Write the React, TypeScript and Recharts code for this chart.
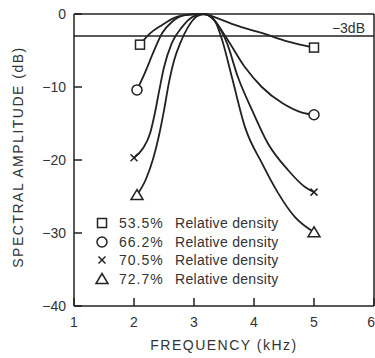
import { LineChart, Line, XAxis, YAxis, ReferenceLine, Legend } from 'recharts';

// axis ticks
const freqTicks = [1, 2, 3, 4, 5, 6];
const dbTicks = [0, -10, -20, -30, -40];
const topTicks = [2, 3, 4, 5];
const rightTicks = [-10, -20, -30];

// legend
const densities = ['53.5%', '66.2%', '70.5%', '72.7%'];
const markerKinds = ['square', 'circle', 'cross', 'triangle'];

// 53.5% relative density
const squareFreq = [2.1, 2.25, 2.47, 2.68, 2.95, 3.15, 3.43, 3.68, 4.13, 4.57, 5.0];
const squareDb = [-4.2, -2.8, -1.5, -0.5, -0.05, 0, -0.7, -1.5, -2.6, -3.8, -4.6];

// 66.2% relative density
const circleFreq = [2.05, 2.18, 2.32, 2.47, 2.63, 2.85, 3.15, 3.3, 3.52, 3.85, 4.13, 4.47, 4.8, 5.0];
const circleDb = [-10.4, -8.1, -5.3, -2.6, -1.1, -0.15, 0, -0.5, -3.0, -7.3, -10.0, -12.2, -13.5, -13.8];

// 70.5% relative density
const crossFreq = [2.0, 2.15, 2.27, 2.35, 2.42, 2.5, 2.63, 2.8, 3.0, 3.18, 3.35, 3.55, 3.73, 3.97, 4.23, 4.57, 4.85, 5.0];
const crossDb = [-19.7, -18.4, -16.3, -13.5, -10.5, -7.3, -4.0, -1.8, -0.3, 0, -1.0, -4.0, -8.6, -13.2, -17.7, -21.4, -23.7, -24.4];

// 72.7% relative density
const triangleFreq = [2.05, 2.2, 2.32, 2.42, 2.5, 2.58, 2.67, 2.77, 2.9, 3.05, 3.18, 3.35, 3.47, 3.63, 3.85, 4.13, 4.4, 4.68, 5.0];
const triangleDb = [-24.8, -22.6, -19.8, -16.5, -13.2, -9.5, -6.3, -4.0, -1.8, -0.3, 0, -1.0, -3.6, -8.6, -15.5, -20.4, -24.5, -27.8, -29.9];

const toRows = (f: number[], d: number[]) => f.map((freq, i) => ({ freq, db: d[i] }));

const series = [
  { kind: 'square', data: toRows(squareFreq, squareDb) },
  { kind: 'circle', data: toRows(circleFreq, circleDb) },
  { kind: 'cross', data: toRows(crossFreq, crossDb) },
  { kind: 'triangle', data: toRows(triangleFreq, triangleDb) },
];

const INK = '#222';
const TEXT = '#333';
const FONT = '"Liberation Sans", Arial, sans-serif';

const fmt = (v: number) => (v < 0 ? `\u2212${Math.abs(v)}` : `${v}`);

function Marker({ kind, cx, cy }: { kind: string; cx: number; cy: number }) {
  const common = { fill: '#fff', stroke: INK, strokeWidth: 1.5 };
  if (kind === 'square') return <rect x={cx - 4.5} y={cy - 4.5} width={9} height={9} {...common} />;
  if (kind === 'circle') return <circle cx={cx} cy={cy} r={5} {...common} />;
  if (kind === 'triangle')
    return <polygon points={`${cx},${cy - 5.5} ${cx - 6},${cy + 4.5} ${cx + 6},${cy + 4.5}`} {...common} />;
  return (
    <g stroke={INK} strokeWidth={1.5}>
      <line x1={cx - 3.5} y1={cy - 3.5} x2={cx + 3.5} y2={cy + 3.5} />
      <line x1={cx - 3.5} y1={cy + 3.5} x2={cx + 3.5} y2={cy - 3.5} />
    </g>
  );
}

const LeftTick = ({ x, y, payload }: any) => (
  <g>
    <line x1={x + 8} x2={x + 16} y1={y} y2={y} stroke={INK} strokeWidth={1.5} />
    <text x={x} y={y} dy={5} textAnchor="end" fontSize={14} fill={TEXT} fontFamily={FONT}>
      {fmt(payload.value)}
    </text>
  </g>
);

const BottomTick = ({ x, y, payload, index }: any) => {
  const last = index === freqTicks.length - 1;
  return (
    <g>
      <line x1={x} x2={x} y1={y} y2={y - 8} stroke={INK} strokeWidth={1.5} />
      <text
        x={last ? x + 1 : x}
        y={y + 21}
        textAnchor={last ? 'end' : 'middle'}
        fontSize={14}
        fill={TEXT}
        fontFamily={FONT}
      >
        {payload.value}
      </text>
    </g>
  );
};

const NoLabel = () => <g />;

const YTitle = ({ viewBox }: any) => {
  const cy = viewBox.y + viewBox.height / 2 - 3;
  return (
    <text
      x={18}
      y={cy}
      transform={`rotate(-90, 18, ${cy})`}
      textAnchor="middle"
      dominantBaseline="central"
      fontSize={14}
      letterSpacing={1.5}
      fill={TEXT}
      fontFamily={FONT}
    >
      SPECTRAL AMPLITUDE (dB)
    </text>
  );
};

const XTitle = ({ viewBox }: any) => (
  <text
    x={viewBox.x + viewBox.width / 2}
    y={viewBox.y + 44}
    textAnchor="middle"
    fontSize={14}
    letterSpacing={1.5}
    fill={TEXT}
    fontFamily={FONT}
  >
    FREQUENCY (kHz)
  </text>
);

const MinusThreeLabel = ({ viewBox }: any) => (
  <text
    x={viewBox.x + viewBox.width - 9}
    y={viewBox.y - 3}
    textAnchor="end"
    fontSize={14}
    fill={TEXT}
    fontFamily={FONT}
  >
    {'\u22123dB'}
  </text>
);

const DensityLegend = () => (
  <div style={{ fontFamily: FONT, fontSize: 14, color: TEXT }}>
    {densities.map((d, i) => (
      <div key={d} style={{ display: 'flex', alignItems: 'center', height: 18.5, whiteSpace: 'nowrap' }}>
        <svg width={16} height={16} style={{ marginRight: 9 }}>
          <Marker kind={markerKinds[i]} cx={8} cy={8} />
        </svg>
        <span style={{ width: 56, letterSpacing: 1 }}>{d}</span>
        <span style={{ letterSpacing: 0.3 }}>Relative density</span>
      </div>
    ))}
  </div>
);

export default function App() {
  return (
    <div style={{ position: 'absolute', left: 0, top: 0, background: '#fff' }}>
      <LineChart width={375} height={358} margin={{ top: 14, right: 1, bottom: 0, left: 0 }}>
        <XAxis
          dataKey="freq"
          type="number"
          domain={[1, 6]}
          ticks={freqTicks}
          interval={0}
          height={52}
          tickSize={0}
          tickMargin={0}
          tick={<BottomTick />}
          axisLine={{ stroke: INK, strokeWidth: 1.5 }}
          label={<XTitle />}
        />
        <XAxis
          xAxisId="top"
          dataKey="freq"
          orientation="top"
          type="number"
          domain={[1, 6]}
          ticks={topTicks}
          interval={0}
          mirror
          height={1}
          tickSize={8}
          tick={<NoLabel />}
          tickLine={{ stroke: INK, strokeWidth: 1.5 }}
          axisLine={{ stroke: INK, strokeWidth: 1.5 }}
        />
        <YAxis
          type="number"
          domain={[-40, 0]}
          ticks={dbTicks}
          interval={0}
          width={74}
          tickSize={0}
          tickMargin={8}
          tick={<LeftTick />}
          axisLine={{ stroke: INK, strokeWidth: 1.5 }}
          label={<YTitle />}
        />
        <YAxis
          yAxisId="right"
          orientation="right"
          type="number"
          domain={[-40, 0]}
          ticks={rightTicks}
          interval={0}
          mirror
          width={1}
          tickSize={8}
          tick={<NoLabel />}
          tickLine={{ stroke: INK, strokeWidth: 1.5 }}
          axisLine={{ stroke: INK, strokeWidth: 1.5 }}
        />
        <ReferenceLine y={-3} stroke={INK} strokeWidth={1.5} label={<MinusThreeLabel />} />
        {series.map((s) => (
          <Line
            key={s.kind}
            data={s.data}
            dataKey="db"
            type="monotone"
            stroke={INK}
            strokeWidth={1.8}
            isAnimationActive={false}
            dot={(p: any) =>
              p.index === 0 || p.index === s.data.length - 1 ? (
                <Marker key={`${s.kind}-${p.index}`} kind={s.kind} cx={p.cx} cy={p.cy} />
              ) : (
                <g key={`${s.kind}-${p.index}`} />
              )
            }
            activeDot={false}
          />
        ))}
        <Legend
          layout="vertical"
          align="center"
          verticalAlign="middle"
          content={<DensityLegend />}
          wrapperStyle={{ left: 94, top: 214, width: 'auto' }}
        />
      </LineChart>
    </div>
  );
}
